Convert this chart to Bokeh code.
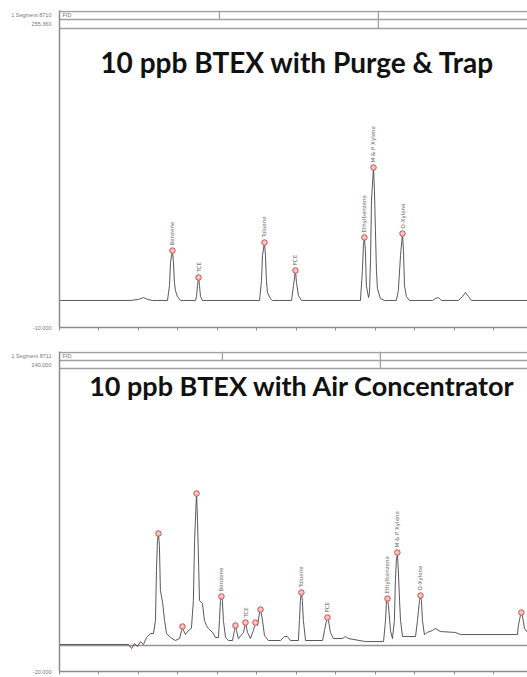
from math import pi
from bokeh.plotting import figure
from bokeh.models import Label, FixedTicker, Range1d, ColumnDataSource
from bokeh.layouts import column
from bokeh.core.properties import value
from bokeh.embed import file_html
from bokeh.resources import INLINE

# ---------------- data (retention time in min, detector signal) ----------------
top_time = [0.30, 3.89, 4.30, 4.55, 4.76, 5.01,
            5.77, 5.87, 5.92, 6.02, 6.07, 6.12, 6.17, 6.27, 6.43,
            7.19, 7.24, 7.29, 7.34, 7.39, 7.44, 7.54,
            10.43, 10.53, 10.58, 10.68, 10.73, 10.78, 10.83, 10.98, 11.08,
            12.05, 12.15, 12.25, 12.30, 12.40, 12.55,
            15.54, 15.64, 15.69, 15.74, 15.79, 15.84, 15.95,
            16.00, 16.05, 16.10, 16.20, 16.25, 16.30, 16.35, 16.40, 16.55, 16.76,
            17.36, 17.46, 17.57, 17.67, 17.72, 17.77, 17.87, 18.02,
            19.19, 19.34, 19.49, 19.64,
            20.50, 20.71, 20.86, 21.01, 21.16, 24.00]
top_signal = [14.0, 14.0, 14.9, 16.6, 14.9, 14.0,
              14.0, 27.3, 47.7, 58.3, 47.7, 29.9, 22.8, 17.5, 14.0,
              14.0, 17.5, 27.3, 34.4, 27.3, 17.5, 14.0,
              14.0, 31.7, 54.0, 65.4, 54.0, 31.7, 21.1, 15.7, 14.0,
              14.0, 27.3, 40.6, 29.9, 18.4, 14.0,
              14.0, 40.6, 62.8, 69.9, 58.3, 27.3, 16.6,
              21.1, 49.5, 102.7, 132.0, 111.6, 76.1, 40.6, 24.6, 15.7, 14.0,
              14.0, 22.8, 54.0, 73.4, 58.3, 27.3, 17.5, 14.0,
              14.0, 15.7, 16.6, 14.0,
              14.0, 17.5, 21.1, 17.5, 14.0, 14.0]

top_peak_names = ["Benzene", "TCE", "Toluene", "PCE", "Ethylbenzene", "M & P Xylene", "O-Xylene"]
top_peak_rt = [6.02, 7.34, 10.68, 12.25, 15.74, 16.20, 17.67]
top_peak_height = [58.3, 34.4, 65.4, 40.6, 69.9, 132.0, 73.4]

bot_time = [0.30, 3.79, 3.95, 4.10, 4.25, 4.40, 4.55, 4.71, 4.91, 5.06,
            5.16, 5.21, 5.26, 5.31, 5.36, 5.41, 5.52, 5.62, 5.72, 5.92, 6.17,
            6.38, 6.48, 6.53, 6.58, 6.68,
            6.83, 6.98, 7.08, 7.14, 7.24, 7.29, 7.39, 7.54, 7.64, 7.74, 7.84, 8.05, 8.20,
            8.35, 8.40, 8.45, 8.50, 8.55, 8.60, 8.71, 8.86, 9.06,
            9.16, 9.21, 9.26, 9.36,
            9.62, 9.72, 9.82, 9.97,
            10.12, 10.22, 10.33, 10.43, 10.48, 10.58, 10.68, 10.88,
            11.49, 11.69, 11.84, 12.00,
            12.40, 12.45, 12.50, 12.55, 12.60, 12.65, 12.76,
            13.62, 13.72, 13.82, 13.87, 13.92, 14.02, 14.17,
            14.63, 14.78, 14.93, 15.79, 16.71,
            16.81, 16.86, 16.91, 16.96, 17.06, 17.16,
            17.26, 17.31, 17.36, 17.41, 17.46, 17.52, 17.57, 17.67, 18.33,
            18.43, 18.53, 18.58, 18.63, 18.68, 18.78, 18.93, 19.19, 19.34, 19.59, 20.35, 20.60, 23.49,
            23.54, 23.64, 23.69, 23.74, 23.85, 24.00]
bot_signal = [3.2, 3.2, -0.3, 4.0, 1.5, 5.7, 3.2, 9.2, 12.6, 12.6,
              23.8, 66.7, 92.4, 98.4, 88.1, 49.5, 39.2, 23.8, 12.6, 9.2, 6.6,
              8.3, 15.2, 18.6, 15.2, 11.7,
              15.2, 16.9, 40.9, 92.4, 132.7, 109.6, 40.9, 38.3, 23.8, 19.5, 16.9, 13.5, 9.2,
              9.2, 23.8, 40.9, 44.4, 40.9, 23.8, 9.2, 6.6, 6.6,
              15.2, 19.5, 15.2, 8.3,
              13.5, 22.0, 13.5, 8.3,
              15.2, 22.0, 19.5, 30.6, 33.2, 23.8, 10.9, 6.6,
              6.6, 10.0, 10.0, 6.6,
              6.6, 23.8, 40.9, 47.8, 40.9, 23.8, 6.6,
              6.6, 15.2, 23.8, 26.3, 23.8, 13.5, 8.3,
              8.3, 10.0, 8.3, 5.7, 5.7,
              23.8, 40.9, 42.6, 36.6, 15.2, 8.3,
              23.8, 58.1, 75.2, 82.1, 66.7, 40.9, 23.8, 10.0, 10.0,
              23.8, 40.9, 45.2, 40.9, 23.8, 11.7, 13.5, 15.2, 16.9, 14.3, 13.5, 11.7, 11.7,
              19.5, 28.0, 30.6, 28.0, 16.9, 13.5]

bot_peak_names = ["", "", "", "Benzene", "", "TCE", "", "", "Toluene", "PCE",
                  "Ethylbenzene", "M & P Xylene", "O-Xylene", ""]
bot_peak_rt = [5.31, 6.53, 7.24, 8.50, 9.21, 9.72, 10.22, 10.48, 12.55, 13.87,
               16.91, 17.41, 18.58, 23.69]
bot_peak_height = [98.4, 18.6, 132.7, 44.4, 19.5, 22.0, 22.0, 33.2, 47.8, 26.3,
                   42.6, 82.1, 45.2, 30.6]

time_ticks = [0.3, 2.3, 4.3, 6.3, 8.3, 10.3, 12.3, 14.3, 16.3, 18.3, 20.3, 22.3]

TITLE_FONT = "Lato"
AX = "#8c8c8c"


def panel(height, b_top, b_bottom, y0, y1, rows, row_labels, bottom_label,
          dividers, title, title_xy, title_size, t_time, t_sig, pk_names, pk_rt, pk_h,
          baseline=None, show_x_labels=True):
    p = figure(width=527, height=height, output_backend="svg", toolbar_location=None,
               x_range=Range1d(0.3, 24.0), y_range=Range1d(y0, y1),
               min_border_left=59, min_border_right=0, min_border_top=b_top,
               min_border_bottom=b_bottom)
    p.outline_line_color = None
    p.grid.visible = False
    p.background_fill_color = "white"
    p.border_fill_color = "white"

    # y axis: only the labelled positions
    yticks = [y0] + [r[1] for r in row_labels]
    p.yaxis.ticker = FixedTicker(ticks=yticks)
    ov = {y0: bottom_label}
    for txt, yy in row_labels:
        ov[yy] = txt
    p.yaxis.major_label_overrides = ov
    p.yaxis.major_tick_line_color = None
    p.yaxis.minor_tick_line_color = None
    p.yaxis.axis_line_color = AX
    p.yaxis.axis_line_width = 1.5
    p.yaxis.major_label_text_font_size = "5.5px"
    p.yaxis.major_label_text_color = "#777777"
    p.yaxis.major_label_standoff = 2

    p.xaxis.ticker = FixedTicker(ticks=time_ticks)
    p.xaxis.major_label_overrides = {t: "" for t in time_ticks}
    p.xaxis.major_tick_out = 3
    p.xaxis.major_tick_in = 0
    p.xaxis.major_tick_line_color = AX
    p.xaxis.minor_tick_line_color = None
    p.xaxis.axis_line_color = AX
    p.xaxis.axis_line_width = 1.5
    p.xaxis.major_label_text_font_size = "0px"
    p.xaxis.major_label_standoff = 0

    # header boxes
    p.hspan(y=rows, line_color="#a0a0a0", line_width=1.3)
    p.segment(x0=[d[0] for d in dividers], x1=[d[0] for d in dividers],
              y0=[d[1] for d in dividers], y1=[d[2] for d in dividers],
              line_color="#a0a0a0", line_width=1.3)
    p.add_layout(Label(x=0.3, y=(rows[0] + rows[1]) / 2, x_offset=3, text="FID",
                       text_font_size="5.5px", text_color="#777777",
                       text_baseline="middle"))

    if baseline is not None:
        p.line([0.3, 24.0], [baseline, baseline], line_color="#a08e90", line_width=1.3)

    p.line(t_time, t_sig, line_color="#454550", line_width=0.9)

    src = ColumnDataSource(dict(t=pk_rt, h=pk_h, name=pk_names))
    p.text(x="t", y="h", text="name", source=src, angle=pi / 2, text_align="left",
           text_baseline="middle", y_offset=-5, text_font_size="5.5px",
           text_color="#6a6a6a", text_font=value("DejaVu Sans"))
    p.scatter(x="t", y="h", source=src, size=5.5, marker="circle",
              fill_color="#f6c6c6", line_color="#d04a4a", line_width=1)

    p.add_layout(Label(x=title_xy[0], y=title_xy[1], text=title, text_align="center",
                       text_baseline="middle", text_font_size=title_size,
                       text_font_style="bold", text_color="#111111",
                       text_font=TITLE_FONT))
    if show_x_labels:
        p.add_layout(Label(x=0.3, y=y0, y_offset=-6, text="0.300", text_baseline="top",
                           text_align="left", text_font_size="5.5px", text_color="#777777"))
        p.add_layout(Label(x=24.0, y=y0, y_offset=-6, x_offset=-1, text="25.000",
                           text_baseline="top", text_align="right",
                           text_font_size="5.5px", text_color="#777777"))
    return p


p1 = panel(342, 10, 15, -10.0, 271.3, [270.6, 263.35, 255.4],
           [("255.360", 259.4), ("1 Segment 8710", 266.9)], "-10.000",
           [(8.40, 263.35, 271.3), (16.45, 255.4, 271.3)],
           "10 ppb BTEX with Purge & Trap", (12.35, 225.2), "28px",
           top_time, top_signal, top_peak_names, top_peak_rt, top_peak_height)

p2 = panel(335, 9, 6, -20.0, 254.6, [254.0, 246.8, 240.0],
           [("240.000", 243.4), ("1 Segment 8711", 250.7)], "-20.000",
           [(8.55, 246.8, 254.6), (16.55, 240.0, 254.6)],
           "10 ppb BTEX with Air Concentrator", (12.6, 225.4), "27px",
           bot_time, bot_signal, bot_peak_names, bot_peak_rt, bot_peak_height,
           baseline=2.3, show_x_labels=False)

layout = column(p1, p2, spacing=0)
open("out.html", "w").write(file_html(layout, INLINE))
